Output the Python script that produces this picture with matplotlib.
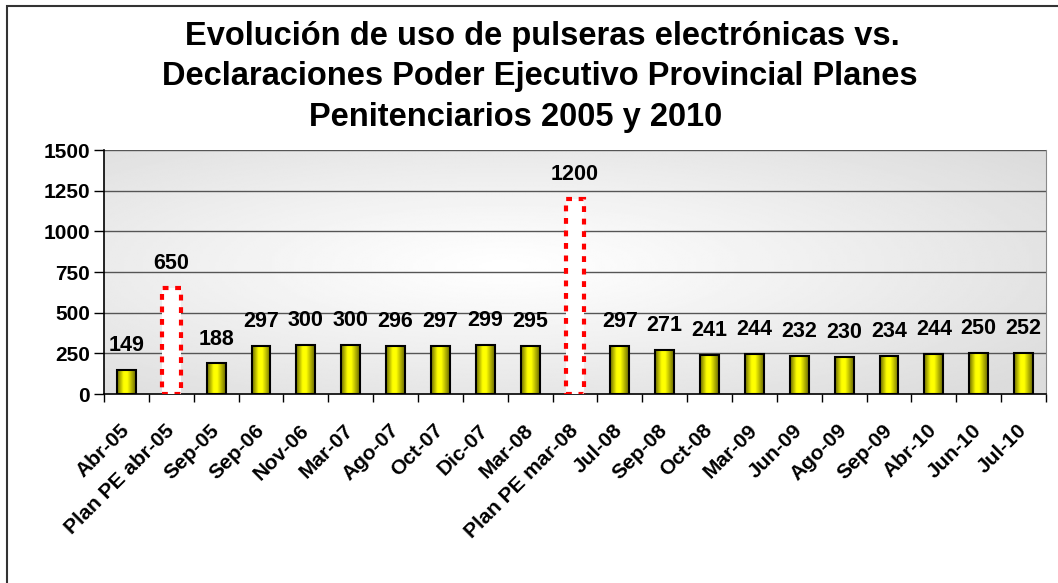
import matplotlib
matplotlib.use("Agg")
import matplotlib.pyplot as plt
import numpy as np
from matplotlib.patches import Rectangle
from matplotlib.colors import LinearSegmentedColormap

categories = ["Abr-05", "Plan PE abr-05", "Sep-05", "Sep-06", "Nov-06", "Mar-07",
              "Ago-07", "Oct-07", "Dic-07", "Mar-08", "Plan PE mar-08", "Jul-08",
              "Sep-08", "Oct-08", "Mar-09", "Jun-09", "Ago-09", "Sep-09", "Abr-10",
              "Jun-10", "Jul-10"]
values = [149, 650, 188, 297, 300, 300, 296, 297, 299, 295, 1200, 297, 271, 241,
          244, 232, 230, 234, 244, 250, 252]
is_plan = [c.startswith("Plan") for c in categories]
yticks = [0, 250, 500, 750, 1000, 1250, 1500]
title_lines = ["Evolución de uso de pulseras electrónicas vs.",
               "Declaraciones Poder Ejecutivo Provincial Planes",
               "Penitenciarios 2005 y 2010"]

plt.rcParams['font.family'] = ['Liberation Sans', 'DejaVu Sans']
plt.rcParams['font.weight'] = 'bold'

W, H = 1058, 583
fig = plt.figure(figsize=(W / 100, H / 100), dpi=100)
fig.patch.set_facecolor('white')
ax = fig.add_axes([104 / W, 1 - 394 / H, (1046 - 104) / W, (394 - 150) / H])

n = len(categories)
x = np.arange(n)
ax.set_xlim(-0.5, n - 0.5)
ax.set_ylim(0, 1500)

# background gradient
gx = np.linspace(-1, 1, 300)
gy = np.linspace(-1, 1, 200)
GX, GY = np.meshgrid(gx + 0.15, gy + 0.05)
r = np.sqrt(GX ** 2 + GY ** 2) / 1.45
bg = 1 - 0.14 * np.clip(r, 0, 1) ** 1.1
ax.imshow(bg, cmap='gray', vmin=0, vmax=1, extent=[-0.5, n - 0.5, 0, 1500],
          aspect='auto', zorder=0, origin='upper', interpolation='bilinear')

for yt in yticks[1:]:
    ax.axhline(yt, color='#555555', lw=1.0, zorder=1)

bar_w = 0.42
bar_cmap = LinearSegmentedColormap.from_list(
    'cyl', [(0, '#6b6b00'), (0.35, '#ffff00'), (0.55, '#ffff00'), (1, '#6b6b00')])
grad = np.linspace(0, 1, 64).reshape(1, -1)

bars = ax.bar(x, values, width=bar_w, zorder=3)
for b, plan, v in zip(bars, is_plan, values):
    if plan:
        b.set_facecolor('white')
        b.set_edgecolor('#ff0000')
        b.set_linewidth(3.0)
        b.set_linestyle((0, (1.4, 1.6)))
    else:
        b.set_facecolor('none')
        b.set_edgecolor('black')
        b.set_linewidth(1.5)
        b.set_zorder(4)
        ax.imshow(grad, cmap=bar_cmap, aspect='auto', zorder=3,
                  extent=[b.get_x(), b.get_x() + b.get_width(), 0, b.get_height()],
                  interpolation='bilinear')
    ax.annotate(str(v), (b.get_x() + b.get_width() / 2, b.get_height()),
                xytext=(0, 10), textcoords='offset points', ha='center', va='bottom',
                fontsize=15.5, fontweight='bold', zorder=5)

ax.set_xticks(x)
ax.set_xticklabels(categories, rotation=45, ha='right', va='center',
                   rotation_mode='anchor', fontsize=15, fontweight='bold')
ax.tick_params(axis='x', which='major', length=0, pad=24)
ax.set_xticks(np.arange(-0.5, n, 1.0), minor=True)
ax.tick_params(axis='x', which='minor', length=6, width=1, color='black', direction='out')
ax.set_yticks(yticks)
ax.set_yticklabels([str(t) for t in yticks], fontsize=15, fontweight='bold')
ax.tick_params(axis='y', length=7, width=1, pad=3, direction='out')

ax.spines['top'].set_visible(False)
ax.spines['right'].set_color('#888888')
ax.spines['left'].set_color('black')
ax.spines['bottom'].set_color('black')
ax.spines['left'].set_linewidth(1.2)
ax.spines['bottom'].set_linewidth(1.2)

title_x = [542, 540, 516]
title_y = [37, 77, 117]
for line, tx, ty in zip(title_lines, title_x, title_y):
    fig.text(tx / W, 1 - ty / H, line, ha='center', va='center', fontsize=23.5,
             fontweight='bold')

border = Rectangle((6.5 / W, -0.1), 1.2, 1 - 6.5 / H + 0.1, transform=fig.transFigure,
                   fill=False, edgecolor='#333333', lw=1.5, clip_on=False)
fig.patches.append(border)

fig.savefig("out.png", dpi=100)
